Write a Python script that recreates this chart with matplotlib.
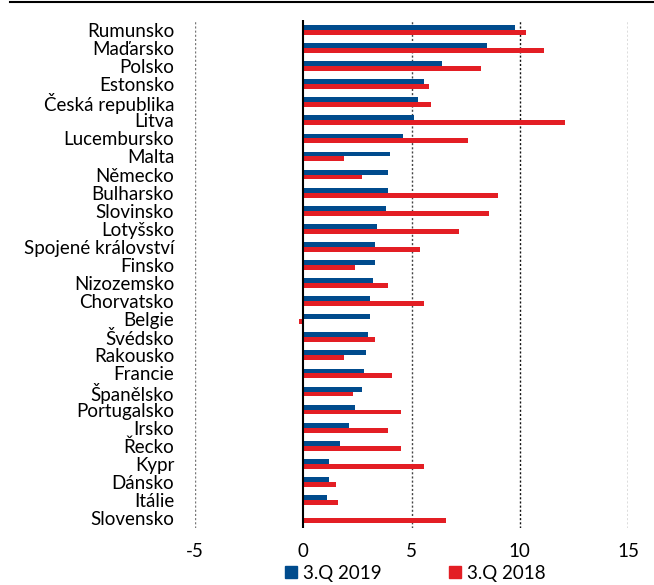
import matplotlib
matplotlib.use("Agg")
import matplotlib.pyplot as plt
from matplotlib.lines import Line2D
from matplotlib.patches import Patch
import numpy as np

countries = ["Rumunsko", "Maďarsko", "Polsko", "Estonsko", "Česká republika",
             "Litva", "Lucembursko", "Malta", "Německo", "Bulharsko",
             "Slovinsko", "Lotyšsko", "Spojené království", "Finsko",
             "Nizozemsko", "Chorvatsko", "Belgie", "Švédsko", "Rakousko",
             "Francie", "Španělsko", "Portugalsko", "Irsko", "Řecko", "Kypr",
             "Dánsko", "Itálie", "Slovensko"]
q3_2019 = [9.8, 8.5, 6.4, 5.6, 5.3, 5.1, 4.6, 4.0, 3.9, 3.9, 3.8, 3.4, 3.3,
           3.3, 3.2, 3.1, 3.1, 3.0, 2.9, 2.8, 2.7, 2.4, 2.1, 1.7, 1.2, 1.2,
           1.1, 0.0]
q3_2018 = [10.3, 11.1, 8.2, 5.8, 5.9, 12.1, 7.6, 1.9, 2.7, 9.0, 8.6, 7.2,
           5.4, 2.4, 3.9, 5.6, -0.2, 3.3, 1.9, 4.1, 2.3, 4.5, 3.9, 4.5, 5.6,
           1.5, 1.6, 6.6]
series_labels = ["3.Q 2019", "3.Q 2018"]
x_ticks = [-5, 0, 5, 10, 15]

BLUE = "#004B8D"
RED = "#E31E24"
FS = 13.5

plt.rcParams["font.family"] = ["Lato", "DejaVu Sans"]

fig = plt.figure(figsize=(6.54, 5.85), dpi=100)
ax = fig.add_axes([195 / 654, 1 - 528 / 585, (628 - 195) / 654, (528 - 20) / 585])

n = len(countries)
y = np.arange(n)
h = 0.27
ax.barh(y - h / 2, q3_2019, height=h, color=BLUE, zorder=3)
ax.barh(y + h / 2, q3_2018, height=h, color=RED, zorder=3)

ax.set_xlim(-5, 15)
ax.set_ylim(n - 0.45, -0.55)

grid_colors = {-5: "#777777", 5: "#444444", 10: "#111111", 15: "#555555"}
for gx, gc in grid_colors.items():
    ax.axvline(gx, color=gc, linestyle=(0, (1.5, 1.5)), lw=1.0, zorder=1)
ax.axvline(0, color="black", lw=1.5, zorder=4)

ax.set_yticks(y)
ax.set_yticklabels(countries, fontsize=FS)
ax.set_xticks(x_ticks)
ax.set_xticklabels([str(t) for t in x_ticks], fontsize=FS)
ax.tick_params(axis="y", length=0, pad=15)
ax.tick_params(axis="x", length=0, pad=11)
for s in ax.spines.values():
    s.set_visible(False)

handles = [Patch(color=BLUE), Patch(color=RED)]
fig.legend(handles, series_labels, loc="center", ncol=2,
           bbox_to_anchor=(415 / 654, 1 - 573 / 585), frameon=False,
           fontsize=FS, handlelength=0.65, handleheight=0.65,
           handletextpad=0.3, columnspacing=3.6, borderpad=0)

fig.add_artist(Line2D([10 / 654, 1], [1 - 2 / 585, 1 - 2 / 585],
                      transform=fig.transFigure, color="black", lw=1.5))

fig.savefig("out.png", dpi=100)
